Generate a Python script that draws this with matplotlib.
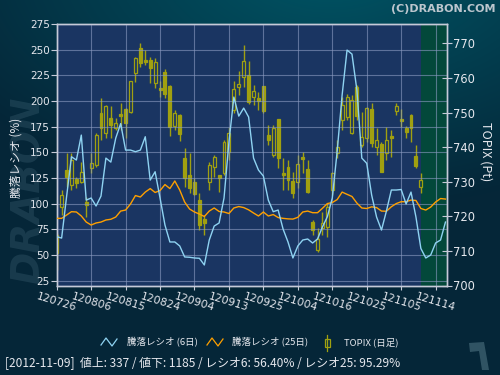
import numpy as np
import matplotlib
matplotlib.use('Agg')
import matplotlib.pyplot as plt
from matplotlib.lines import Line2D
from matplotlib.patches import Rectangle, Polygon

plt.rcParams['font.family'] = ['DejaVu Sans', 'Noto Sans CJK JP']

# ---------------- data ----------------
tick_labels = ['120726', '120806', '120815', '120824', '120904', '120913',
               '120925', '121004', '121016', '121025', '121105', '121114']

ratio6 = [67.8, 66.5, 106.5, 145.7, 142.5, 166.8, 103.5, 105.5, 97.7, 107.4,
          144.4, 140.5, 163.9, 178.0, 152.2, 152.2, 150.6, 152.2, 165.2, 123.0,
          131.1, 105.5, 79.2, 62.7, 62.7, 58.8, 48.1, 47.8, 47.1, 46.8,
          40.3, 64.6, 78.2, 81.2, 105.5, 160.0, 203.8, 185.3, 193.1, 184.4,
          144.4, 132.7, 126.9, 103.5, 92.2, 93.8, 75.3, 62.7, 47.1, 58.8,
          64.6, 65.6, 61.7, 65.6, 77.3, 87.3, 105.5, 151.3, 205.8, 249.6,
          245.7, 210.7, 144.4, 139.3, 108.4, 87.0, 74.3, 92.8, 113.3, 113.3,
          113.8, 99.7, 111.3, 87.0, 56.4, 47.1, 50.0, 61.7, 64.6, 82.1]

ratio25 = [85.7, 85.7, 88.9, 92.2, 91.9, 88.0, 82.1, 79.2, 81.2, 82.1,
           84.1, 84.8, 87.0, 92.8, 93.8, 99.7, 107.9, 106.5, 111.3, 114.7,
           110.9, 112.8, 118.6, 114.7, 122.1, 113.3, 101.6, 94.8, 91.9, 89.9,
           87.5, 92.8, 95.8, 92.4, 91.9, 90.4, 95.8, 97.2, 96.2, 94.0,
           90.9, 88.0, 91.9, 88.0, 89.4, 86.5, 85.7, 85.2, 85.0, 86.7,
           91.9, 92.8, 91.2, 91.2, 95.5, 100.1, 101.1, 104.0, 111.3, 109.1,
           107.0, 100.6, 95.8, 95.3, 96.9, 96.2, 92.8, 92.6, 97.0, 100.1,
           101.9, 101.9, 103.5, 103.1, 95.3, 93.8, 96.7, 101.6, 105.0, 104.5]

topix_open = [709.3, 722.8, 733.4, 729.0, 730.8, 730.0, 724.2, 733.9, 734.8, 749.8,
              744.2, 748.3, 745.4, 749.6, 751.0, 750.2, 761.5, 768.8, 765.2, 765.2,
              758.6, 757.2, 761.6, 757.7, 746.1, 749.3, 736.8, 731.9, 729.9, 724.7,
              719.2, 730.0, 734.3, 731.9, 732.4, 738.7, 750.7, 757.4, 760.3, 760.8,
              754.6, 754.1, 757.7, 743.5, 737.7, 748.0, 732.4, 734.3, 730.3, 730.0,
              737.2, 733.6, 718.4, 710.3, 716.5, 717.0, 727.6, 738.2, 747.8, 748.8,
              744.2, 757.3, 740.6, 742.5, 751.0, 740.0, 740.9, 738.2, 743.2, 750.4,
              748.1, 745.4, 749.3, 737.5, 728.6]
topix_high = [715.2, 727.6, 738.3, 738.3, 731.4, 735.8, 725.7, 738.3, 744.1, 754.1,
              752.2, 751.9, 748.3, 752.7, 751.2, 759.1, 766.1, 770.0, 768.1, 766.1,
              765.7, 759.1, 762.5, 758.0, 750.7, 749.5, 739.7, 738.3, 731.1, 726.7,
              720.4, 735.8, 737.7, 731.9, 742.1, 745.9, 759.1, 762.0, 769.5, 765.0,
              757.9, 756.0, 757.7, 746.4, 746.4, 748.0, 736.8, 736.3, 732.9, 737.7,
              738.7, 736.3, 718.9, 716.5, 721.3, 723.8, 732.9, 742.1, 754.6, 755.5,
              755.0, 758.0, 750.2, 751.7, 752.7, 745.4, 741.6, 745.9, 744.9, 752.7,
              750.9, 746.1, 749.5, 740.6, 732.4]
topix_low = [704.5, 720.4, 728.6, 727.6, 728.2, 729.5, 719.9, 732.5, 734.3, 742.0,
             742.5, 742.5, 744.9, 744.9, 742.5, 749.8, 758.9, 763.2, 763.7, 758.6,
             757.0, 754.6, 754.1, 743.2, 744.9, 741.8, 728.6, 726.7, 726.2, 716.0,
             714.6, 727.6, 731.4, 727.1, 731.9, 736.3, 749.8, 755.0, 757.4, 752.6,
             752.2, 750.7, 749.8, 740.6, 737.2, 733.9, 727.6, 727.6, 725.2, 728.1,
             732.4, 726.6, 714.6, 709.8, 714.6, 714.1, 726.2, 736.8, 744.9, 747.8,
             743.8, 747.8, 740.1, 741.6, 740.1, 737.7, 732.8, 736.3, 737.2, 749.3,
             745.7, 742.5, 741.6, 733.9, 726.8]
topix_close = [714.6, 726.2, 731.3, 736.3, 729.6, 732.9, 723.3, 735.3, 743.5, 745.4,
               751.9, 746.4, 746.9, 749.0, 747.0, 759.1, 765.7, 764.4, 764.7, 762.8,
               764.7, 756.5, 755.3, 745.9, 749.8, 743.7, 731.0, 728.1, 726.4, 717.5,
               718.1, 734.8, 737.2, 731.0, 741.6, 744.1, 756.8, 758.2, 765.0, 753.1,
               756.2, 753.4, 750.5, 742.0, 745.4, 736.8, 732.0, 730.5, 726.8, 735.1,
               736.5, 727.1, 716.0, 713.4, 718.0, 722.8, 732.4, 740.1, 752.2, 754.4,
               753.6, 749.0, 743.0, 751.2, 741.1, 742.0, 732.9, 742.0, 742.7, 751.9,
               747.6, 744.4, 745.4, 734.6, 730.5]

left_ticks = [25, 50, 75, 100, 125, 150, 175, 200, 225, 250, 275]
right_ticks = [700, 710, 720, 730, 740, 750, 760, 770]

legend_labels = ['騰落レシオ (6日)', '騰落レシオ (25日)', 'TOPIX (日足)']
status_text = '[2012-11-09]  値上: 337 / 値下: 1185 / レシオ6: 56.40% / レシオ25: 95.29%'

# ---------------- styles ----------------
W, H = 500, 375
NAVY = '#1a3562'
GREEN = '#03483a'
CYAN = '#8fd3f2'
ORANGE = '#ffa000'
OLIVE = '#a0a010'
TXT = '#e6e8ee'
GRID = '#8c9bc2'
SPINE = '#c6cad8'
CJK = ['Noto Sans CJK JP', 'DejaVu Sans']

fig = plt.figure(figsize=(W / 100, H / 100), dpi=100)

def fx(x):
    return x / W

def fy(y):
    return 1 - y / H

# background gradient
yy, xx = np.mgrid[0:H, 0:W]
d = np.sqrt(((xx - 330) / 430.0) ** 2 + ((yy + 40) / 250.0) ** 2)
t = np.clip(d, 0, 1)[..., None]
c0 = np.array([0, 86, 102]) / 255.0
c1 = np.array([5, 38, 56]) / 255.0
img = c0 * (1 - t) + c1 * t
bg = fig.add_axes([0, 0, 1, 1], zorder=-10)
bg.imshow(img, aspect='auto', extent=[0, 1, 0, 1])
bg.axis('off')

# watermark
fig.text(fx(29), fy(190), 'DRABON', rotation=90, fontsize=28, fontweight='heavy',
         style='italic', color=(0.5, 0.65, 0.72, 0.16), ha='center', va='center')

L, R, T, B = 56.7, 446.7, 24.0, 285.5
ax = fig.add_axes([fx(L), fy(B), (R - L) / W, (B - T) / H])
ax2 = ax.twinx()
ax.set_zorder(3)
ax.patch.set_visible(False)
ax2.set_zorder(2)
ax2.patch.set_visible(True)
ax2.patch.set_facecolor(NAVY)

n_c = len(topix_close)
n_r = len(ratio6)
xr = np.arange(n_r)
xmax = 79.25

ax2.axvspan(n_c - 1, xmax, color=GREEN, zorder=0, lw=0)

# candles
for i in range(n_c):
    o, h, l, c = topix_open[i], topix_high[i], topix_low[i], topix_close[i]
    lo, hi = min(o, c), max(o, c)
    ax2.vlines(i, l, lo, color=OLIVE, lw=1.0, zorder=2)
    ax2.vlines(i, hi, h, color=OLIVE, lw=1.0, zorder=2)
    up = c >= o
    ax2.add_patch(Rectangle((i - 0.3, lo), 0.6, max(hi - lo, 0.25),
                            facecolor='none' if up else OLIVE,
                            edgecolor=OLIVE, lw=0.9, zorder=3))

ax.plot(xr, ratio25, color=ORANGE, lw=1.0, zorder=4)
ax.plot(xr, ratio6, color=CYAN, lw=1.0, zorder=5)

ax.set_xlim(0, xmax)
ax.set_ylim(20.3, 275)
ax2.set_ylim(700, 775.6)

ax.set_xticks(np.arange(len(tick_labels)) * 7)
ax.set_xticklabels(tick_labels, rotation=-17, ha='center', va='top',
                   rotation_mode='default', fontsize=7.8, color=TXT)
ax.set_yticks(left_ticks)
ax.set_yticklabels([str(v) for v in left_ticks], fontsize=7.5, color=TXT)
ax2.set_yticks(right_ticks)
ax2.set_yticklabels([str(v) for v in right_ticks], fontsize=8.3, color=TXT)

ax.tick_params(axis='x', colors=SPINE, labelcolor=TXT, length=3, width=0.8, pad=1)
ax.tick_params(axis='y', colors=SPINE, labelcolor=TXT, length=4, width=0.8, pad=1)
ax2.tick_params(axis='y', colors=SPINE, labelcolor=TXT, direction='inout',
                length=7, width=0.8, pad=1)

ax.grid(True, color=GRID, alpha=0.6, lw=0.8)
for a in (ax, ax2):
    for s in a.spines.values():
        s.set_color(SPINE)
        s.set_linewidth(1.0)

fig.text(fx(16), fy(158), '騰落レシオ (%)', rotation=90, fontsize=8.5, color=TXT,
         ha='center', va='center', family=CJK)
fig.text(fx(486), fy(152), 'TOPIX (Pt)', rotation=270, fontsize=9, color=TXT,
         ha='center', va='center', family=CJK)

fig.text(fx(495), fy(9), '(C)DRABON.COM', fontsize=8, fontweight='bold',
         color='#bcc6ce', ha='right', va='center')

# legend (manual)
def zig(x0, color):
    xs = [x0, x0 + 5, x0 + 11, x0 + 16]
    ys = [345, 338, 346, 339]
    fig.add_artist(Line2D([fx(v) for v in xs], [fy(v) for v in ys],
                          transform=fig.transFigure, color=color, lw=0.9))

zig(101, CYAN)
fig.text(fx(127), fy(342), legend_labels[0], fontsize=6.8, color=TXT,
         va='center', ha='left', family=CJK)
zig(207, ORANGE)
fig.text(fx(232), fy(342), legend_labels[1], fontsize=6.8, color=TXT,
         va='center', ha='left', family=CJK)
fig.add_artist(Line2D([fx(327), fx(327)], [fy(335), fy(351)],
                      transform=fig.transFigure, color=OLIVE, lw=0.9))
fig.add_artist(Rectangle((fx(324.5), fy(347)), 5 / W, 8 / H, transform=fig.transFigure,
                         facecolor='#0a2d40', edgecolor=OLIVE, lw=0.9))
fig.text(fx(344), fy(342), legend_labels[2], fontsize=6.8, color=TXT,
         va='center', ha='left', family=CJK)

fig.text(fx(5), fy(364), status_text, fontsize=8.6, color=TXT, va='center', ha='left',
         family=CJK)

# small logo mark bottom right
fig.add_artist(Polygon([(fx(469), fy(343)), (fx(484), fy(342)), (fx(489), fy(370)),
                        (fx(482), fy(370)), (fx(479), fy(351)), (fx(470), fy(352))],
                       closed=True, transform=fig.transFigure,
                       facecolor=(0.4, 0.55, 0.6, 0.45), edgecolor='none'))

fig.savefig('out.png', dpi=100)
